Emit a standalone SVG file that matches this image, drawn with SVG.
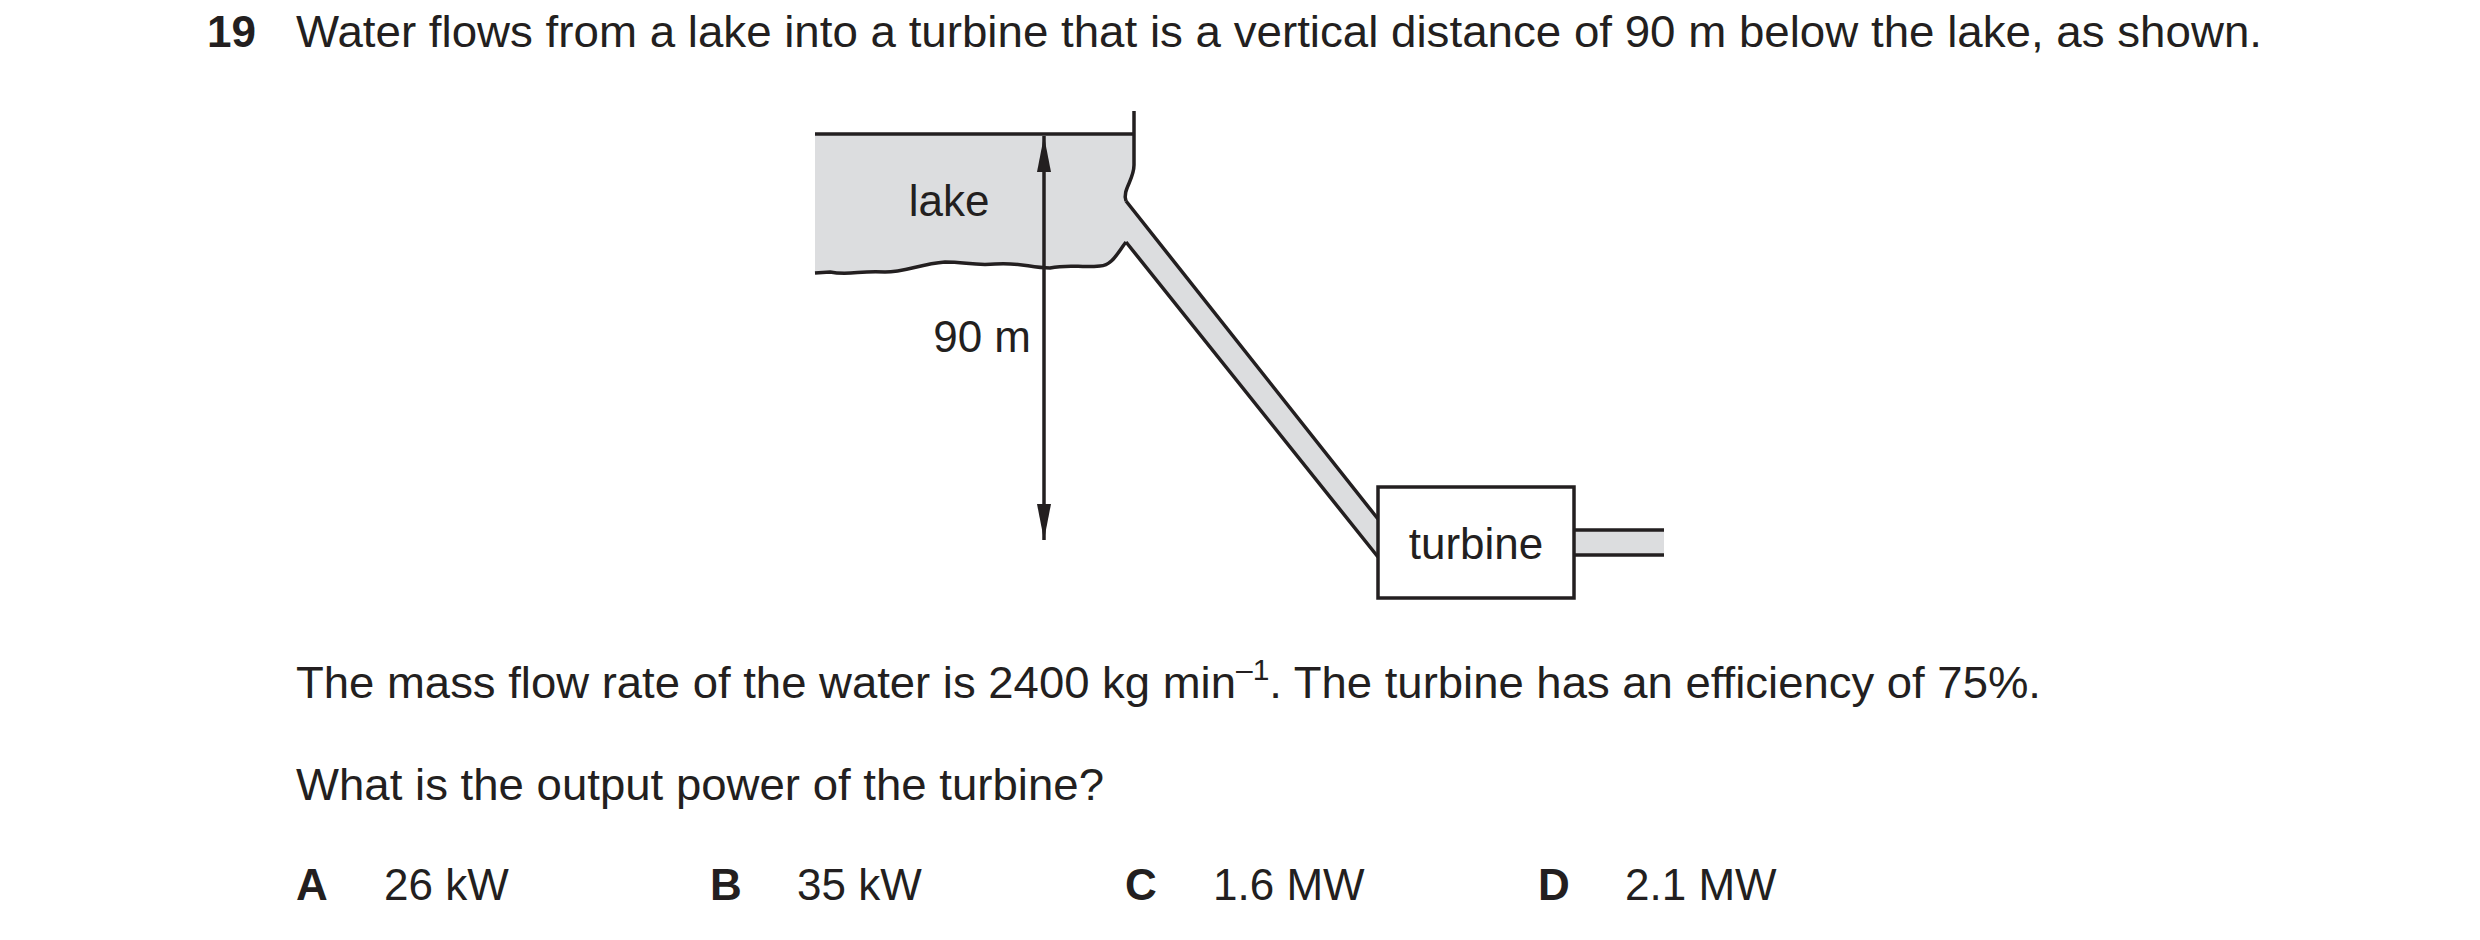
<svg xmlns="http://www.w3.org/2000/svg" width="2480" height="940" viewBox="0 0 2480 940">
<style>
text{font-family:"Liberation Sans",Arial,sans-serif;font-size:44px;fill:#231f20}
.b{font-weight:bold}
.ln{fill:none;stroke:#231f20;stroke-width:3.5}
.w{fill:#dcdddf}
</style>
<defs>
<marker id="ah" markerWidth="36" markerHeight="14" refX="36" refY="7" orient="auto-start-reverse" markerUnits="userSpaceOnUse" viewBox="0 0 36 14">
<path d="M0,0 L36,7 L0,14 Z" fill="#231f20"/>
</marker>
</defs>
<rect width="2480" height="940" fill="#fff"/>
<text class="b" x="207" y="47">19</text>
<text x="296" y="47" textLength="1966" lengthAdjust="spacingAndGlyphs">Water flows from a lake into a turbine that is a vertical distance of 90 m below the lake, as shown.</text>
<g id="lake">
<path class="w" d="M815,134 L1134,134 L1134,165 C1134,180 1122,190 1126,201 L1126,242 C1118,252 1112,266 1100,266 C1080,268 1070,264 1050,268 C1030,268 1020,262 995,264 C975,266 965,262 945,262 C920,264 905,272 885,272 C860,270 850,276 830,272 L815,273 Z"/>
<path class="ln" d="M815,134 L1134,134"/>
<path class="ln" d="M1134,111 L1134,165 C1134,180 1122,190 1126,201"/>
<path class="ln" d="M815,273 L830,272 C850,276 860,270 885,272 C905,272 920,264 945,262 C965,262 975,266 995,264 C1020,262 1030,268 1050,268 C1070,264 1080,268 1100,266 C1112,266 1118,252 1126,242"/>
<text x="949" y="216" text-anchor="middle" font-size="46">lake</text>
</g>
<g id="pipe">
<path class="w" d="M1126,201 L1378,519 L1378,557 L1126,242 Z"/>
<path class="ln" d="M1126,201 L1378,519 M1126,242 L1378,557"/>
</g>
<g id="outlet">
<rect class="w" x="1574" y="530" width="90" height="25"/>
<path class="ln" d="M1574,530 L1664,530 M1574,555 L1664,555"/>
</g>
<g id="turbine">
<rect x="1378" y="487" width="196" height="111" fill="#fff" stroke="#231f20" stroke-width="3.5"/>
<text x="1476" y="559" text-anchor="middle" font-size="46">turbine</text>
</g>
<g id="connectors">
<line class="ln" x1="1044" y1="136" x2="1044" y2="540" stroke-width="3" marker-start="url(#ah)" marker-end="url(#ah)"/>
</g>
<text x="1031" y="352" text-anchor="end" font-size="46">90 m</text>
<text x="296" y="698" textLength="1745" lengthAdjust="spacingAndGlyphs">The mass flow rate of the water is 2400 kg min<tspan dy="-18" font-size="29">–1</tspan><tspan dy="18">. The turbine has an efficiency of 75%.</tspan></text>
<text x="296" y="800" textLength="808" lengthAdjust="spacingAndGlyphs">What is the output power of the turbine?</text>
<text class="b" x="296" y="900">A</text><text x="384" y="900">26 kW</text>
<text class="b" x="710" y="900">B</text><text x="797" y="900">35 kW</text>
<text class="b" x="1125" y="900">C</text><text x="1213" y="900">1.6 MW</text>
<text class="b" x="1538" y="900">D</text><text x="1625" y="900">2.1 MW</text>
</svg>
